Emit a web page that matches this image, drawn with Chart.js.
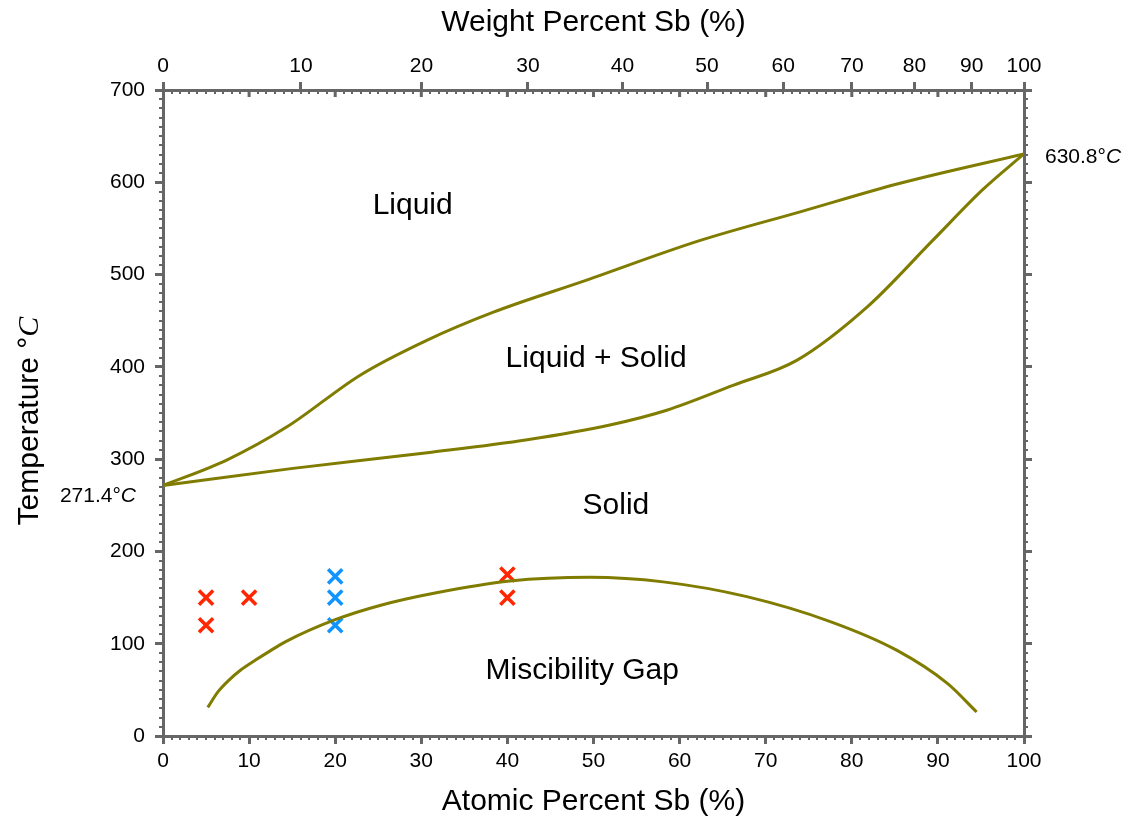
<!DOCTYPE html>
<html>
<head>
<meta charset="utf-8">
<script src="https://cdn.jsdelivr.net/npm/chart.js@4.4.0/dist/chart.umd.min.js"></script>
<style>
  body { margin: 0; background: #fff; }
</style>
</head>
<body>
<canvas id="myChart" width="1133" height="823"></canvas>
<script>
// liquidus (upper curve), atomic % Sb vs temperature
var liquidusX = [0, 7.4, 14.4, 22.9, 30.7, 38.3, 49.2, 62.4, 74, 85.6, 100];
var liquidusY = [271.4, 299, 335, 391, 429, 459, 494, 537, 568, 599, 630.8];

// solidus (lower curve)
var solidusX = [0, 15.1, 30.7, 42.3, 51.9, 58.5, 66.2, 73.6, 81.8, 89.4, 95.2, 100];
var solidusY = [271.4, 290, 307, 321, 337, 353, 380, 407, 465, 537, 592, 630.8];

// miscibility gap
var gapX = [5.2, 6.4, 7.6, 9.1, 10.7, 12.4, 14.2, 20, 25.4, 31.6, 40.3, 49.6, 58.1, 67.8, 77.5, 85.2, 91.1, 94.5];
var gapY = [31, 48, 60, 72, 82, 92, 102, 126, 142, 155, 168, 172, 167, 151, 124, 93, 57, 26];

// sample points
var redX = [5, 5, 10, 40, 40];
var redY = [150, 120, 150, 175, 150];
var blueX = [20, 20, 20];
var blueY = [173, 150, 120];

// tick labels
var atomicTicks = [0, 10, 20, 30, 40, 50, 60, 70, 80, 90, 100];
var weightTicks = [0, 10, 20, 30, 40, 50, 60, 70, 80, 90, 100];
var tempTicks = [0, 100, 200, 300, 400, 500, 600, 700];

// molar masses for weight % -> atomic % (Bi-Sb)
var M_SB = 121.76, M_BI = 208.98;
function weightToAtomic(w) {
  if (w <= 0) return 0;
  if (w >= 100) return 100;
  var nSb = w / M_SB, nBi = (100 - w) / M_BI;
  return 100 * nSb / (nSb + nBi);
}

function pts(xs, ys) {
  return xs.map(function(x, i) { return {x: x, y: ys[i]}; });
}

var olive = 'rgb(128,124,0)';
var axisColor = '#666';
var sans = "'Liberation Sans', Arial, Helvetica, sans-serif";
Chart.defaults.font.family = sans;
Chart.defaults.color = '#000';

function lineSet(label, data) {
  return {
    label: label, data: data, showLine: true, borderColor: olive, borderWidth: 3,
    pointRadius: 0, fill: false, cubicInterpolationMode: 'monotone'
  };
}
function markSet(label, data, color) {
  return {
    label: label, data: data, showLine: false, pointStyle: 'crossRot',
    pointRadius: 10, pointBorderWidth: 3.5, borderColor: color, backgroundColor: color
  };
}

// text inside the diagram
var regionLabels = [
  {text: 'Liquid', x: 29, y: 575},
  {text: 'Liquid + Solid', x: 50.3, y: 409},
  {text: 'Solid', x: 52.6, y: 250},
  {text: 'Miscibility Gap', x: 48.7, y: 71}
];

var extras = {
  id: 'extras',
  afterDraw: function(chart) {
    var ctx = chart.ctx, xs = chart.scales.x, ys = chart.scales.y, a = chart.chartArea;
    ctx.save();
    // small ticks along the frame
    ctx.strokeStyle = axisColor;
    ctx.lineWidth = 2;
    ctx.beginPath();
    for (var i = 1; i < 100; i++) {
      var px = Math.round(xs.getPixelForValue(i));
      ctx.moveTo(px, a.top); ctx.lineTo(px, a.top + 4);
      ctx.moveTo(px, a.bottom); ctx.lineTo(px, a.bottom + 4);
    }
    for (var j = 10; j < 700; j += 10) {
      var py = Math.round(ys.getPixelForValue(j));
      ctx.moveTo(a.left - 4, py); ctx.lineTo(a.left, py);
      ctx.moveTo(a.right, py); ctx.lineTo(a.right + 4, py);
    }
    ctx.stroke();
    ctx.lineWidth = 3;
    ctx.beginPath();
    for (var k = 10; k < 100; k += 10) {
      var tx = xs.getPixelForValue(k);
      ctx.moveTo(tx, a.top); ctx.lineTo(tx, a.top + 7);
    }
    ctx.stroke();

    // region labels
    ctx.fillStyle = '#000';
    ctx.font = '30px ' + sans;
    ctx.textAlign = 'center';
    ctx.textBaseline = 'middle';
    regionLabels.forEach(function(r) {
      ctx.fillText(r.text, xs.getPixelForValue(r.x), ys.getPixelForValue(r.y));
    });

    // melting point notes
    function note(num, x, y, align) {
      ctx.font = '21px ' + sans;
      var w1 = ctx.measureText(num).width;
      ctx.font = 'italic 21px ' + sans;
      var w2 = ctx.measureText('C').width;
      var x0 = align === 'right' ? x - w1 - w2 : x;
      ctx.textAlign = 'left';
      ctx.font = '21px ' + sans;
      ctx.fillText(num, x0, y);
      ctx.font = 'italic 21px ' + sans;
      ctx.fillText('C', x0 + w1, y);
    }
    note('271.4°', a.left - 27, ys.getPixelForValue(271.4) + 11, 'right');
    note('630.8°', a.right + 21, ys.getPixelForValue(630.8) + 3, 'left');

    // y axis title
    ctx.translate(30, (a.top + a.bottom) / 2 + 8);
    ctx.rotate(-Math.PI / 2);
    ctx.font = '30px ' + sans;
    var t1 = 'Temperature °';
    var tw1 = ctx.measureText(t1).width;
    ctx.font = "italic 30px 'Liberation Serif', 'Times New Roman', serif";
    var tw2 = ctx.measureText('C').width;
    var sx = -(tw1 + tw2) / 2;
    ctx.textAlign = 'left';
    ctx.font = '30px ' + sans;
    ctx.fillText(t1, sx, 0);
    ctx.font = "italic 30px 'Liberation Serif', 'Times New Roman', serif";
    ctx.fillText('C', sx + tw1, 0);
    ctx.restore();
  }
};

var gridOpts = {
  drawOnChartArea: false, drawTicks: true, tickLength: 8,
  tickColor: axisColor, tickWidth: 3, color: axisColor, lineWidth: 3
};
var borderOpts = {display: true, color: axisColor, width: 3};

var ctx = document.getElementById('myChart');
var chart = new Chart(ctx, {
  type: 'scatter',
  data: {
    datasets: [
      lineSet('Liquidus', pts(liquidusX, liquidusY)),
      lineSet('Solidus', pts(solidusX, solidusY)),
      lineSet('Miscibility gap', pts(gapX, gapY)),
      markSet('Red samples', pts(redX, redY), 'rgb(255,38,0)'),
      markSet('Blue samples', pts(blueX, blueY), 'rgb(16,148,255)')
    ]
  },
  options: {
    responsive: false,
    animation: false,
    layout: {padding: 0},
    plugins: {legend: {display: false}, tooltip: {enabled: false}},
    scales: {
      x: {
        type: 'linear', position: 'bottom', min: 0, max: 100,
        afterBuildTicks: function(s) { s.ticks = atomicTicks.map(function(v) { return {value: v}; }); },
        afterFit: function(s) { s.height = 87; },
        ticks: {autoSkip: false, maxRotation: 0, padding: 5, font: {size: 21}},
        grid: gridOpts, border: borderOpts,
        title: {display: true, text: 'Atomic Percent Sb (%)', font: {size: 30}, padding: {bottom: 3}}
      },
      x2: {
        type: 'linear', position: 'top', min: 0, max: 100,
        afterBuildTicks: function(s) { s.ticks = weightTicks.map(function(w) { return {value: weightToAtomic(w)}; }); },
        afterFit: function(s) { s.height = 90; },
        ticks: {
          autoSkip: false, maxRotation: 0, padding: 3, font: {size: 21},
          callback: function(v, i) { return weightTicks[i]; }
        },
        grid: gridOpts, border: borderOpts,
        title: {display: true, text: 'Weight Percent Sb (%)', font: {size: 30}, padding: {top: 5}}
      },
      y: {
        type: 'linear', position: 'left', min: 0, max: 700,
        afterBuildTicks: function(s) { s.ticks = tempTicks.map(function(v) { return {value: v}; }); },
        afterFit: function(s) { s.width = 163; },
        ticks: {padding: 10, font: {size: 21}},
        grid: gridOpts, border: borderOpts
      },
      y2: {
        type: 'linear', position: 'right', min: 0, max: 700,
        afterBuildTicks: function(s) { s.ticks = tempTicks.map(function(v) { return {value: v}; }); },
        afterFit: function(s) { s.width = 109; },
        ticks: {display: false},
        grid: gridOpts, border: borderOpts
      }
    }
  },
  plugins: [extras]
});
</script>
</body>
</html>
